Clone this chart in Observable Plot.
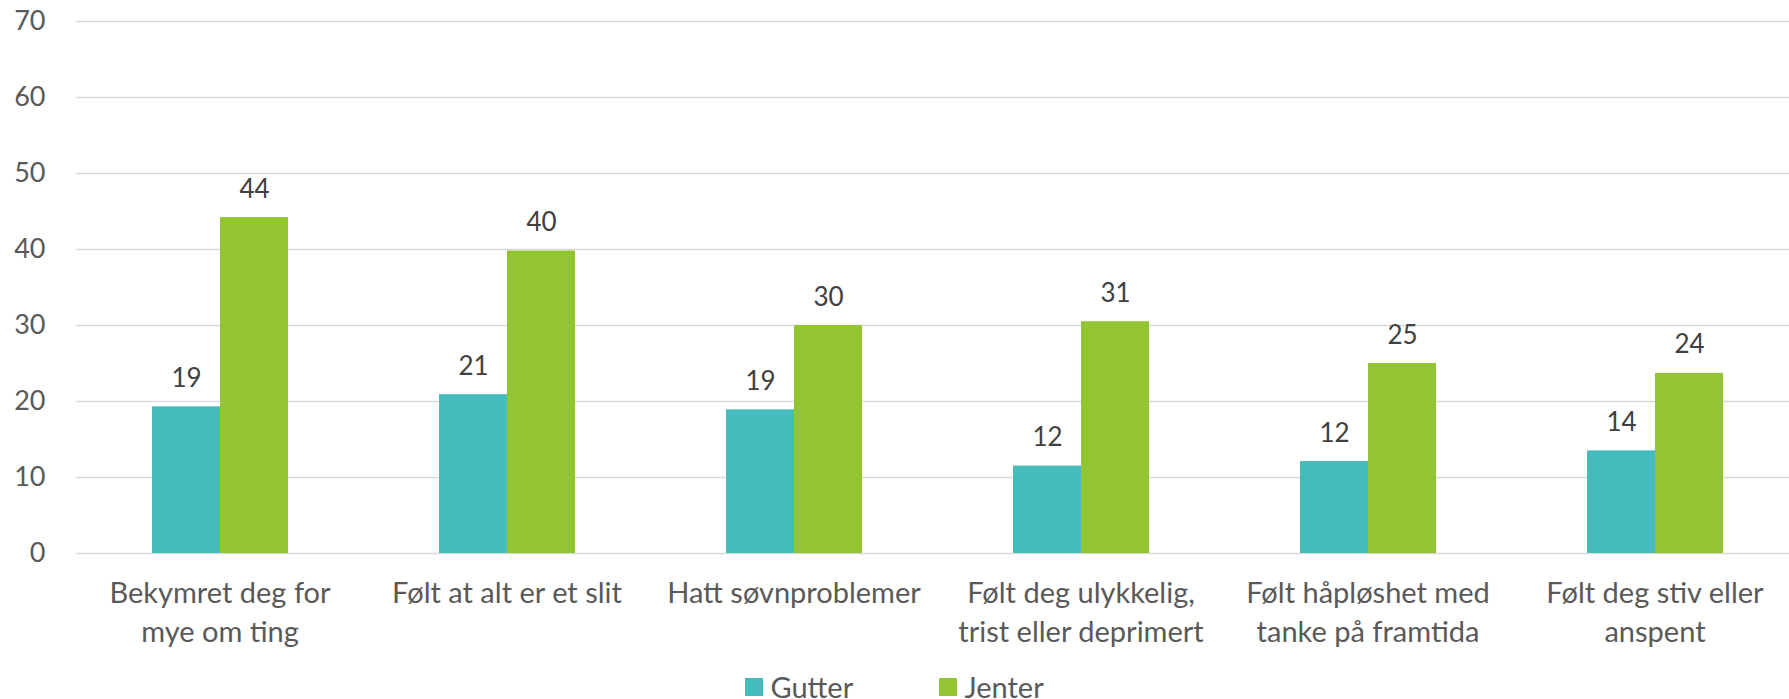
<!DOCTYPE html>
<html>
<head>
<meta charset="utf-8">
<script src="https://cdn.jsdelivr.net/npm/d3@7"></script>
<script src="https://cdn.jsdelivr.net/npm/@observablehq/plot@0.6"></script>
<style>
  html, body { margin: 0; padding: 0; background: #fff; overflow: hidden; }
  #legend { position: relative; height: 39px; font-family: Lato, sans-serif; font-size: 29px; color: #595959; }
  #legend .sw { position: absolute; width: 18px; height: 18px; top: 18px; }
  #legend .lb { position: absolute; top: 12px; line-height: 1; white-space: nowrap; }
</style>
</head>
<body>
<div id="chart"></div>
<div id="legend"></div>
<script>
const categories = [
  "Bekymret deg for mye om ting",
  "Følt at alt er et slit",
  "Hatt søvnproblemer",
  "Følt deg ulykkelig, trist eller deprimert",
  "Følt håpløshet med tanke på framtida",
  "Følt deg stiv eller anspent"
];
const categoryLabels = [
  "Bekymret deg for\nmye om ting",
  "Følt at alt er et slit",
  "Hatt søvnproblemer",
  "Følt deg ulykkelig,\ntrist eller deprimert",
  "Følt håpløshet med\ntanke på framtida",
  "Følt deg stiv eller\nanspent"
];
const series = ["Gutter", "Jenter"];
const gutter = [19.3, 20.9, 18.9, 11.5, 12.1, 13.5];
const jenter = [44.2, 39.8, 30.0, 30.5, 25.0, 23.7];
const colors = ["#45bcbb", "#93c432"];
const yTicks = [0, 10, 20, 30, 40, 50, 60, 70];

const data = [];
categories.forEach((c, i) => {
  data.push({cat: c, series: "Gutter", value: gutter[i]});
  data.push({cat: c, series: "Jenter", value: jenter[i]});
});
const labelOf = new Map(categories.map((c, i) => [c, categoryLabels[i]]));

const chart = Plot.plot({
  width: 1789,
  height: 660,
  marginLeft: 75,
  marginRight: -10,
  marginTop: 21,
  marginBottom: 107,
  style: {fontFamily: "Lato, sans-serif", fontSize: "27px", color: "#595959", background: "#fff"},
  fx: {domain: categories, padding: 0, label: null, axis: null},
  x: {domain: series, paddingInner: 0, paddingOuter: 1.1, axis: null},
  y: {domain: [0, 70], label: null},
  color: {domain: series, range: colors},
  marks: [
    Plot.gridY(yTicks, {stroke: "#d9d9d9", strokeOpacity: 1, strokeWidth: 1.5}),
    Plot.axisY(yTicks, {tickSize: 0, tickPadding: 31, fontSize: 27, fill: "#595959", label: null}),
    Plot.axisFx({anchor: "bottom", tickSize: 0, tickPadding: 22, fontSize: 29, lineHeight: 1.345, fill: "#595959", label: null,
                 tickFormat: d => labelOf.get(d)}),
    Plot.barY(data, {fx: "cat", x: "series", y: "value", fill: "series"}),
    Plot.text(data, {fx: "cat", x: "series", y: "value", text: d => String(Math.round(d.value)),
                     dy: -20, lineAnchor: "bottom", fill: "#404040", fontSize: 26})
  ]
});
document.getElementById("chart").appendChild(chart);

const legend = document.getElementById("legend");
const legendPos = [745, 939];
series.forEach((s, i) => {
  const sw = document.createElement("span");
  sw.className = "sw";
  sw.style.left = legendPos[i] + "px";
  sw.style.background = colors[i];
  legend.appendChild(sw);
  const lb = document.createElement("span");
  lb.className = "lb";
  lb.style.left = (legendPos[i] + 25.5) + "px";
  lb.textContent = s;
  legend.appendChild(lb);
});
</script>
</body>
</html>
